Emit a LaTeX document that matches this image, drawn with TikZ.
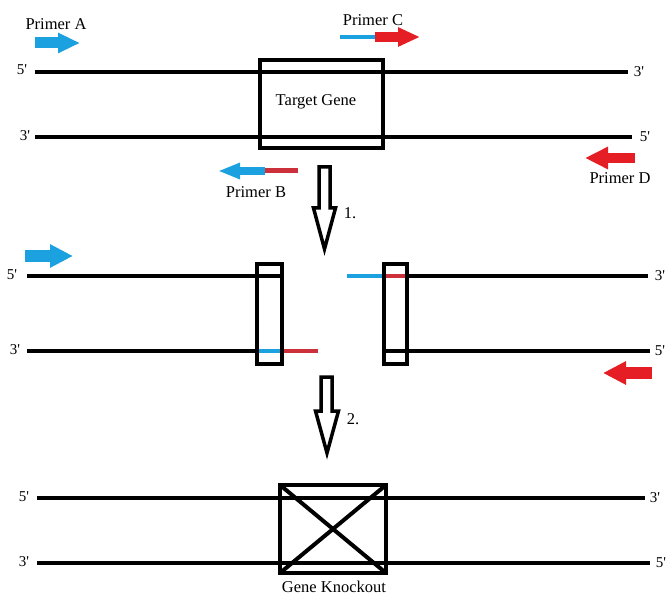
\documentclass[tikz,border=0pt]{standalone}
\usepackage{fontspec}
\setmainfont{Liberation Serif}
\usetikzlibrary{arrows.meta}
\definecolor{pblue}{RGB}{27,160,224}
\definecolor{pred}{RGB}{228,30,36}
\definecolor{pdred}{RGB}{204,48,58}
\newcommand{\pr}{\textquotesingle}
\begin{document}
\begin{tikzpicture}[x=1pt,y=-1pt,
  strand/.style={line width=4.5pt},
  boxline/.style={line width=4pt},
  thinseg/.style={line width=4pt},
  lbl/.style={font=\fontsize{16.5}{18}\selectfont, inner sep=0pt},
  endlbl/.style={font=\fontsize{15}{17}\selectfont, inner sep=0pt},
  fatblue/.style={pblue, line width=#1},
  fatred/.style={pred, line width=#1},
  hollow/.style={line width=3.5pt, line join=miter}]
\useasboundingbox[fill=white] (0,0) rectangle (667,596);

% ---------- Section 1 ----------
\coordinate (s1tl) at (35,72);  \coordinate (s1tr) at (628,72);
\coordinate (s1bl) at (35,137); \coordinate (s1br) at (632,137);
\draw[strand] (s1tl) -- (s1tr);
\draw[strand] (s1bl) -- (s1br);
\node[endlbl] (s1l5) at (22,70) {5\pr};
\node[endlbl] (s1l3) at (25,136) {3\pr};
\node[endlbl] (s1r3) at (639,72) {3\pr};
\node[endlbl] (s1r5) at (645,137) {5\pr};
\draw[boxline] (260,60) rectangle (383,148);
\node[lbl] (tg) at (316,102) {Target Gene};

% Primer A
\node[lbl] (pa) at (56,24) {Primer A};
\coordinate (paS) at (35,43); \coordinate (paE) at (80,43);
\draw[fatblue=11pt, -{Triangle[length=22pt,width=19pt]}] (paS) -- (paE);
% Primer C
\node[lbl] (pc) at (373,20) {Primer C};
\coordinate (pcS) at (340,37); \coordinate (pcM) at (375,37); \coordinate (pcE) at (420,37);
\draw[pblue, line width=4pt] (pcS) -- (pcM);
\draw[fatred=10pt, -{Triangle[length=22pt,width=18pt]}] (pcM) -- (pcE);
% Primer B
\node[lbl] (pb) at (256,192) {Primer B};
\coordinate (pbS) at (298,171); \coordinate (pbM) at (265,171); \coordinate (pbE) at (218,171);
\draw[pdred, line width=5pt] (pbS) -- (pbM);
\draw[fatblue=8pt, -{Triangle[length=22pt,width=15pt]}] (pbM) -- (pbE);
% Primer D
\node[lbl] (pd) at (620,178) {Primer D};
\coordinate (pdS) at (635,158); \coordinate (pdE) at (585,158);
\draw[fatred=10pt, -{Triangle[length=23pt,width=21pt]}] (pdS) -- (pdE);

% Step arrow 1
\draw[hollow] (319,167) -- (330,167) -- (330,208) -- (335.5,208) -- (324.5,249) -- (313.5,208) -- (319,208) -- cycle;
\node[lbl] (st1) at (350,213) {1.};

% ---------- Section 2 ----------
\node[endlbl] (s2l5) at (12,275) {5\pr};
\node[endlbl] (s2l3) at (15,350) {3\pr};
\node[endlbl] (s2r3) at (660,276) {3\pr};
\node[endlbl] (s2r5) at (660,351) {5\pr};
\draw[strand] (27,276) -- (280,276);
\draw[strand] (27,351) -- (258,351);
\draw[pblue, thinseg] (258,351) -- (283,351);
\draw[pdred, thinseg] (283,351) -- (318,351);
\draw[boxline] (257,264) rectangle (282,364);

\draw[pblue, thinseg] (347,276) -- (384,276);
\draw[pdred, thinseg] (384,276) -- (408,276);
\draw[strand] (408,276) -- (648,276);
\draw[strand] (386,351) -- (650,351);
\draw[boxline] (384,264) rectangle (407,364);

\coordinate (baS) at (25,256); \coordinate (baE) at (73,256);
\draw[fatblue=12pt, -{Triangle[length=23pt,width=22pt]}] (baS) -- (baE);
\coordinate (raS) at (652,373); \coordinate (raE) at (603,373);
\draw[fatred=12pt, -{Triangle[length=23pt,width=22pt]}] (raS) -- (raE);

% Step arrow 2
\draw[hollow] (321,377) -- (332,377) -- (332,411) -- (338.5,411) -- (327,453) -- (315.5,411) -- (321,411) -- cycle;
\node[lbl] (st2) at (353,419) {2.};

% ---------- Section 3 ----------
\node[endlbl] (s3l5) at (24,497) {5\pr};
\node[endlbl] (s3l3) at (24,562) {3\pr};
\node[endlbl] (s3r3) at (655,498) {3\pr};
\node[endlbl] (s3r5) at (661,563) {5\pr};
\draw[strand] (37,498) -- (645,498);
\draw[strand] (37,563) -- (650,563);
\draw[boxline] (280,485) rectangle (386,573);
\draw[boxline] (280,485) -- (386,573);
\draw[boxline] (386,485) -- (280,573);
\node[lbl] (gk) at (334,587) {Gene Knockout};
\end{tikzpicture}
\end{document}
